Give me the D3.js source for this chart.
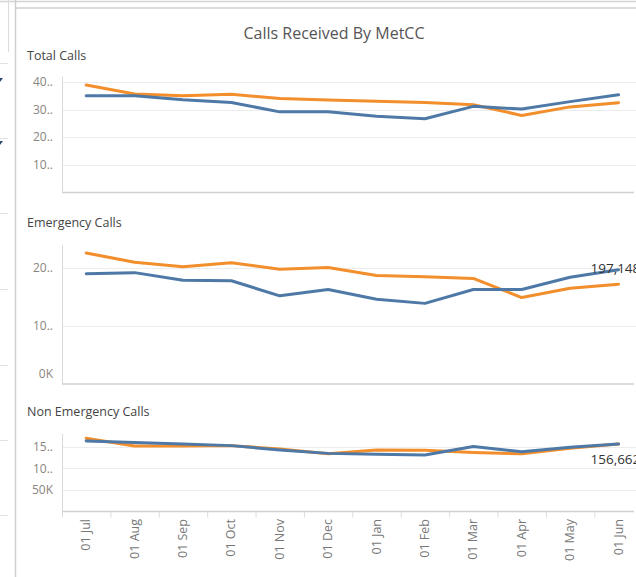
<!DOCTYPE html>
<html>
<head>
<meta charset="utf-8">
<script src="https://cdn.jsdelivr.net/npm/d3@7"></script>
<style>
  html, body { margin: 0; padding: 0; background: #fff; }
  svg { display: block; font-family: "Open Sans", "Noto Sans", sans-serif; }
</style>
</head>
<body>
<svg id="chart" width="636" height="577"></svg>
<script>
// ---------------- DATA ----------------
const months = ["01 Jul","01 Aug","01 Sep","01 Oct","01 Nov","01 Dec","01 Jan","01 Feb","01 Mar","01 Apr","01 May","01 Jun"];

// Total calls (orange = previous year, blue = current year)
const totalOrange = [389000, 357000, 350000, 356000, 340000, 335000, 330000, 326000, 318000, 279000, 310000, 325000];
const totalBlue   = [350000, 350000, 336000, 326000, 292000, 292000, 276000, 267000, 312000, 302000, 329000, 353810];

// Emergency calls
const emergOrange = [226000, 210000, 202000, 209000, 198000, 201000, 187000, 185000, 182000, 149000, 165000, 172000];
const emergBlue   = [190000, 192000, 179000, 178000, 152000, 163000, 146000, 139000, 163000, 163000, 184000, 197148];

// Non-emergency calls
const nonOrange = [170000, 152000, 152000, 153000, 145000, 134000, 143000, 142000, 137000, 134000, 147000, 157000];
const nonBlue   = [164000, 160000, 157000, 153000, 143000, 135000, 133000, 131000, 151000, 139000, 149000, 156662];

// Axis ticks and their (truncated) labels as displayed
const totalTicks = [100000, 200000, 300000, 400000];
const totalTickLabels = ["10..", "20..", "30..", "40.."];
const emergTicks = [0, 100000, 200000];
const emergTickLabels = ["0K", "10..", "20.."];
const nonTicks = [50000, 100000, 150000];
const nonTickLabels = ["50K", "10..", "15.."];

const chartTitle = "Calls Received By MetCC";
const paneTitles = ["Total Calls", "Emergency Calls", "Non Emergency Calls"];
const endLabels = ["197,148", "156,662"];

// ---------------- DRAW ----------------
const svg = d3.select("#chart");
const W = 636;
const ORANGE = "#f28e2b", BLUE = "#4e79a7";

// left sidebar / frame decoration
const frame = svg.append("g");
frame.append("line").attr("x1", 0).attr("x2", W).attr("y1", 1.5).attr("y2", 1.5).attr("stroke", "#d4d4d4").attr("stroke-width", 1.5);
frame.append("line").attr("x1", 8.5).attr("x2", 8.5).attr("y1", 0).attr("y2", 52).attr("stroke", "#dcdcdc");
[63, 138, 213, 289, 365, 440, 515].forEach(y => {
  frame.append("line").attr("x1", 0).attr("x2", 8).attr("y1", y + 0.5).attr("y2", y + 0.5).attr("stroke", "#e2e2e2");
});
[80, 143].forEach(y => {
  frame.append("path").attr("d", `M-3,${y - 2}L3,${y - 2}L0,${y + 2}Z`).attr("fill", "#2c4a70");
});
frame.append("line").attr("x1", 15.5).attr("x2", 15.5).attr("y1", 0).attr("y2", 577).attr("stroke", "#cfcfcf").attr("stroke-width", 1.5);
frame.append("line").attr("x1", 16).attr("x2", W).attr("y1", 8).attr("y2", 8).attr("stroke", "#cfcfcf").attr("stroke-width", 1.5);

// title
svg.append("text").attr("x", 334).attr("y", 39).attr("text-anchor", "middle")
  .attr("font-size", 16).attr("fill", "#555").text(chartTitle);

const x = d3.scaleBand().domain(months).range([62, 642.7]).padding(0);
const cx = m => x(m) + x.bandwidth() / 2;

const panes = [
  { title: paneTitles[0], titleY: 60, top: 76.5, bottom: 192.5, max: 420000, ticks: totalTicks, labels: totalTickLabels, orange: totalOrange, blue: totalBlue },
  { title: paneTitles[1], titleY: 227, top: 244.8, bottom: 384, max: 240000, ticks: emergTicks, labels: emergTickLabels, orange: emergOrange, blue: emergBlue, endLabel: endLabels[0], endDy: -1 },
  { title: paneTitles[2], titleY: 416, top: 434, bottom: 511.5, max: 180000, ticks: nonTicks, labels: nonTickLabels, orange: nonOrange, blue: nonBlue, endLabel: endLabels[1], endDy: 15 }
];

panes.forEach((p, i) => {
  const g = svg.append("g");
  const y = d3.scaleLinear().domain([0, p.max]).range([p.bottom, p.top]);

  g.append("text").attr("x", 27).attr("y", p.titleY).attr("font-size", 12.5).attr("fill", "#444").text(p.title);

  // gridlines
  g.selectAll(".grid").data(p.ticks.filter(t => t > 0)).join("line")
    .attr("x1", 62).attr("x2", W).attr("y1", d => Math.round(y(d)) + 0.5).attr("y2", d => Math.round(y(d)) + 0.5)
    .attr("stroke", "#ececec").attr("stroke-width", 1);

  // y axis line
  g.append("line").attr("x1", 62.5).attr("x2", 62.5).attr("y1", p.top).attr("y2", p.bottom).attr("stroke", "#d9d9d9");
  // bottom axis line
  g.append("line").attr("x1", 62).attr("x2", W - 2).attr("y1", p.bottom).attr("y2", p.bottom).attr("stroke", "#d0d0d0").attr("stroke-width", 1.5);

  // y tick labels
  g.selectAll(".yl").data(p.ticks).join("text")
    .attr("x", 53).attr("y", d => y(d) - (d === 0 ? 10.5 : 0)).attr("dy", "0.35em")
    .attr("text-anchor", "end").attr("font-size", 12).attr("fill", "#8a8580")
    .text((d, k) => p.labels[k]);

  const line = d3.line().x((d, k) => cx(months[k])).y(d => y(d));
  g.append("path").datum(p.orange).attr("d", line).attr("fill", "none").attr("stroke", ORANGE)
    .attr("stroke-width", 3).attr("stroke-linejoin", "round").attr("stroke-linecap", "round");
  g.append("path").datum(p.blue).attr("d", line).attr("fill", "none").attr("stroke", BLUE)
    .attr("stroke-width", 3).attr("stroke-linejoin", "round").attr("stroke-linecap", "round");

  if (p.endLabel) {
    const last = months.length - 1;
    g.append("text").attr("x", cx(months[last]) - 28).attr("y", y(p.blue[last]) + p.endDy).attr("dy", "0.35em")
      .attr("font-size", 13.5).attr("fill", "#333").text(p.endLabel);
  }

  if (i === 2) {
    // x axis tick marks at band boundaries
    g.selectAll(".xt").data(months).join("line")
      .attr("x1", d => x(d) + 0.5).attr("x2", d => x(d) + 0.5)
      .attr("y1", p.bottom).attr("y2", p.bottom + 6).attr("stroke", "#dcdcdc");
    g.selectAll(".xl").data(months).join("text")
      .attr("transform", d => `translate(${cx(d) + 4},${519}) rotate(-90)`)
      .attr("text-anchor", "end").attr("font-size", 12.5).attr("fill", "#777")
      .text(d => d);
  }
});
</script>
</body>
</html>
